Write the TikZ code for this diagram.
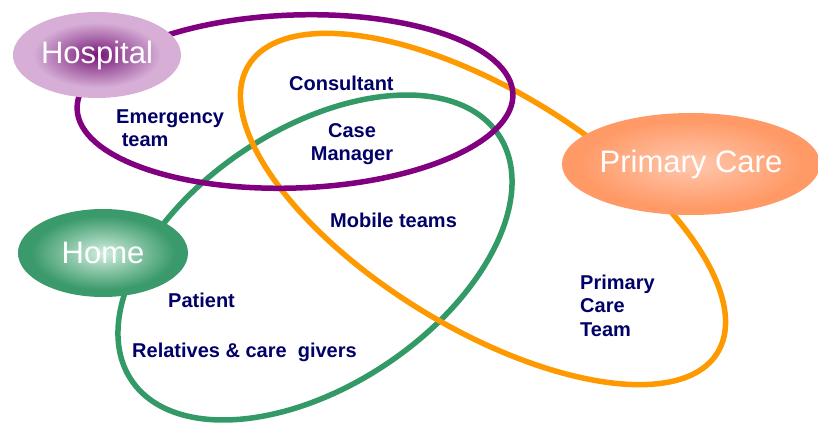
\documentclass[tikz,border=0pt]{standalone}
\usepackage{fontspec}
\setmainfont{Liberation Sans}
\usetikzlibrary{shapes.geometric}
\definecolor{purp}{HTML}{800080}
\definecolor{oran}{HTML}{FF9900}
\definecolor{gree}{HTML}{339966}
\definecolor{navy}{HTML}{000066}
\definecolor{hospin}{HTML}{761476}
\definecolor{hospmid}{HTML}{A460A4}
\definecolor{hospout}{HTML}{D6AED6}
\definecolor{homein}{HTML}{D2EEDF}
\definecolor{homeout}{HTML}{3B9A6B}
\definecolor{pcin}{HTML}{FFC8AE}
\definecolor{pcout}{HTML}{FF9966}
\pgfdeclareradialshading{hospshade}{\pgfpoint{0bp}{0bp}}{color(0bp)=(hospin); color(9bp)=(hospmid); color(19bp)=(hospout); color(50bp)=(hospout)}
\pgfdeclareradialshading{homeshade}{\pgfpoint{0bp}{0bp}}{color(0bp)=(homein); color(21bp)=(homeout); color(50bp)=(homeout)}
\pgfdeclareradialshading{pcshade}{\pgfpoint{0bp}{0bp}}{color(0bp)=(pcin); color(22bp)=(pcout); color(50bp)=(pcout)}
\tikzset{
  loop/.style={line width=5.5pt},
  place/.style={ellipse, inner sep=0pt, text=white, font=\fontsize{31}{31}\selectfont},
  lab/.style={text=navy, inner sep=0pt, font=\bfseries\fontsize{20}{23.5}\selectfont}
}
\begin{document}
\begin{tikzpicture}[x=1pt,y=1pt]
\useasboundingbox (0,0) rectangle (818,423);
% loops
\draw[loop, gree] (315,165.5) ellipse [x radius=220.8, y radius=128.3, rotate=33.7];
\draw[loop, oran] (483,214) ellipse [x radius=275, y radius=118.5, rotate=-31.5];
\draw[loop, purp] (295,321.5) ellipse [x radius=218, y radius=86.5, rotate=2];
% places
\node[place, minimum width=168pt, minimum height=86pt, shading=hospshade] (hosp) at (97,368) {Hospital};
\node[place, minimum width=170pt, minimum height=88pt, shading=homeshade] (home) at (103,170) {Home};
\node[place, minimum width=252pt, minimum height=102pt, shading=pcshade] (pc) at (691,259) {Primary Care};
% labels
\node[lab, anchor=base west, align=left] (emerg) at (116,276) {Emergency\\\ team};
\node[lab, anchor=base west] (cons) at (289,332) {Consultant};
\node[lab, anchor=base, align=center] (case) at (352,262) {Case\\Manager};
\node[lab, anchor=base west] (mob) at (330,195) {Mobile teams};
\node[lab, anchor=base west] (pat) at (168,116) {Patient};
\node[lab, anchor=base west] (rel) at (132,66) {Relatives \& care\ \ givers};
\node[lab, anchor=base west, align=left] (pct) at (580,87) {Primary\\Care\\Team};
\end{tikzpicture}
\end{document}
